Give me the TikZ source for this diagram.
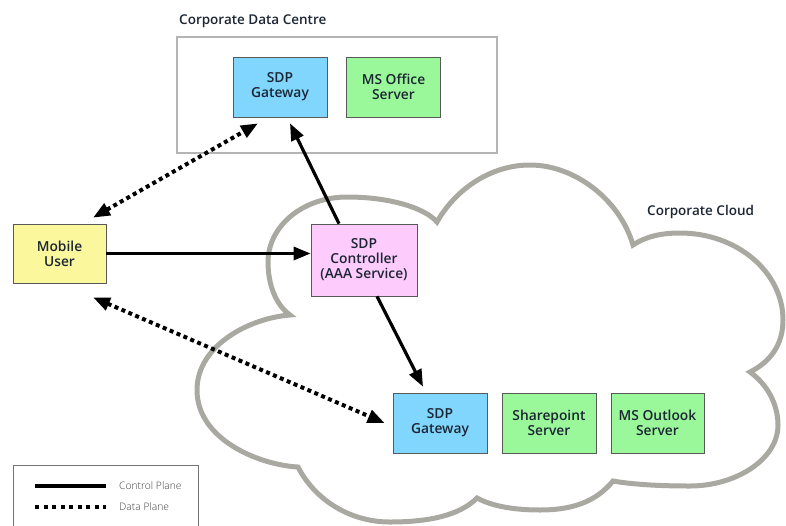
\documentclass[tikz,border=0pt]{standalone}
\usepackage{fontspec}
\setmainfont{Open Sans}
\IfFontExistsTF{Open Sans SemiBold}{\newfontfamily\lblfont{Open Sans SemiBold}}{%
  \IfFontExistsTF{Open Sans Semibold}{\newfontfamily\lblfont{Open Sans Semibold}}{\newcommand\lblfont{\bfseries}}}
\IfFontExistsTF{Open Sans Light}{\newfontfamily\legfont{Open Sans Light}}{\newcommand\legfont{\normalfont}}
\usetikzlibrary{arrows.meta}
\definecolor{txt}{HTML}{1C2533}
\definecolor{gwblue}{HTML}{80D6FC}
\definecolor{srvgreen}{HTML}{9AF89A}
\definecolor{ctrlpink}{HTML}{FDCCFD}
\definecolor{useryellow}{HTML}{FBF79D}
\definecolor{cloudgray}{HTML}{A9A9A1}
\definecolor{framegray}{HTML}{B4B4B4}
\tikzset{
  box/.style={draw=black!65, line width=0.7pt, minimum width=94pt, minimum height=60pt,
    inner sep=0pt, align=center, text=txt, font=\lblfont\fontsize{13.8}{15}\selectfont},
  gw/.style={box, fill=gwblue},
  srv/.style={box, fill=srvgreen},
  ctl/.style={line width=3.2pt, -{Triangle[length=17pt,width=13pt]}},
  dat/.style={line width=4pt, dash pattern=on 4pt off 3.5pt,
    {Triangle[length=17pt,width=13pt]}-{Triangle[length=17pt,width=13pt]}},
  title/.style={text=txt, font=\lblfont\fontsize{13.5}{15}\selectfont, inner sep=0pt},
  legtext/.style={anchor=west, inner sep=0pt, text=black!75, font=\legfont\fontsize{10.3}{12}\selectfont}
}
\begin{document}
\begin{tikzpicture}[x=1pt,y=-1pt]
\useasboundingbox (0,0) rectangle (786,525);
% cloud
\draw[cloudgray, line width=5pt, fill=white]
  (290,315) .. controls (276,305) and (268,285) .. (268,262)
  .. controls (268,226) and (303,197) .. (347,197)
  .. controls (390,197) and (425,208) .. (437,222)
  .. controls (455,190) and (490,165) .. (530,165)
  .. controls (575,165) and (620,200) .. (633,245)
  .. controls (645,237) and (660,233) .. (680,233)
  .. controls (737,233) and (783,272) .. (783,320)
  .. controls (783,345) and (770,362) .. (750,372)
  .. controls (768,385) and (778,405) .. (778,425)
  .. controls (778,460) and (735,486) .. (690,486)
  .. controls (655,486) and (630,484) .. (613,481)
  .. controls (595,503) and (570,510) .. (540,510)
  .. controls (510,510) and (490,505) .. (477,498)
  .. controls (460,515) and (430,522) .. (390,522)
  .. controls (350,522) and (315,500) .. (298,467)
  .. controls (260,465) and (197,440) .. (197,390)
  .. controls (197,345) and (250,318) .. (290,315) -- cycle;
\node[title, anchor=west] (cloudlbl) at (647,212) {Corporate Cloud};
% data centre
\draw[framegray, line width=1.2pt] (177,37) rectangle (497,153);
\node[title, anchor=west] (dclbl) at (179,21) {Corporate Data Centre};
% nodes
\node[gw] (gwTop) at (280,87) {SDP\\Gateway};
\node[srv] (office) at (393.5,87) {MS Office\\Server};
\node[box, fill=useryellow, minimum width=93pt, minimum height=59pt] (mobile) at (59.5,253.5) {Mobile\\User};
\node[box, fill=ctrlpink, minimum width=106pt, minimum height=72pt] (ctrl) at (364,260) {SDP\\Controller\\(AAA Service)};
\node[gw] (gwBot) at (440,423) {SDP\\Gateway};
\node[srv] (share) at (549,423) {Sharepoint\\Server};
\node[srv, minimum width=93pt] (outlook) at (657.5,423) {MS Outlook\\Server};
% control plane
\draw[ctl] (mobile.east) -- (mobile.east -| ctrl.west);
\draw[ctl] ([xshift=-25pt]ctrl.north) -- ([xshift=10pt,yshift=-6pt]gwTop.south);
\draw[ctl] ([xshift=13pt]ctrl.south) -- ([xshift=-17pt,yshift=6pt]gwBot.north);
% data plane
\draw[dat] ([xshift=33.5pt,yshift=6pt]mobile.north) -- ([xshift=-22pt,yshift=-6pt]gwTop.south);
\draw[dat] ([xshift=33.5pt,yshift=-14pt]mobile.south) -- ([xshift=-8pt]gwBot.west);
% legend
\draw[black!55, line width=0.8pt] (13,530) -- (13,465) -- (198,465) -- (198,530);
\coordinate (l1a) at (35,486); \coordinate (l1b) at (106,486);
\coordinate (l2a) at (35,507); \coordinate (l2b) at (106,507);
\draw[line width=3.2pt] (l1a) -- (l1b);
\draw[line width=4pt, dash pattern=on 4pt off 4.5pt] (l2a) -- (l2b);
\node[legtext] (lg1) at (119,486) {Control Plane};
\node[legtext] (lg2) at (119,507) {Data Plane};
\end{tikzpicture}
\end{document}
